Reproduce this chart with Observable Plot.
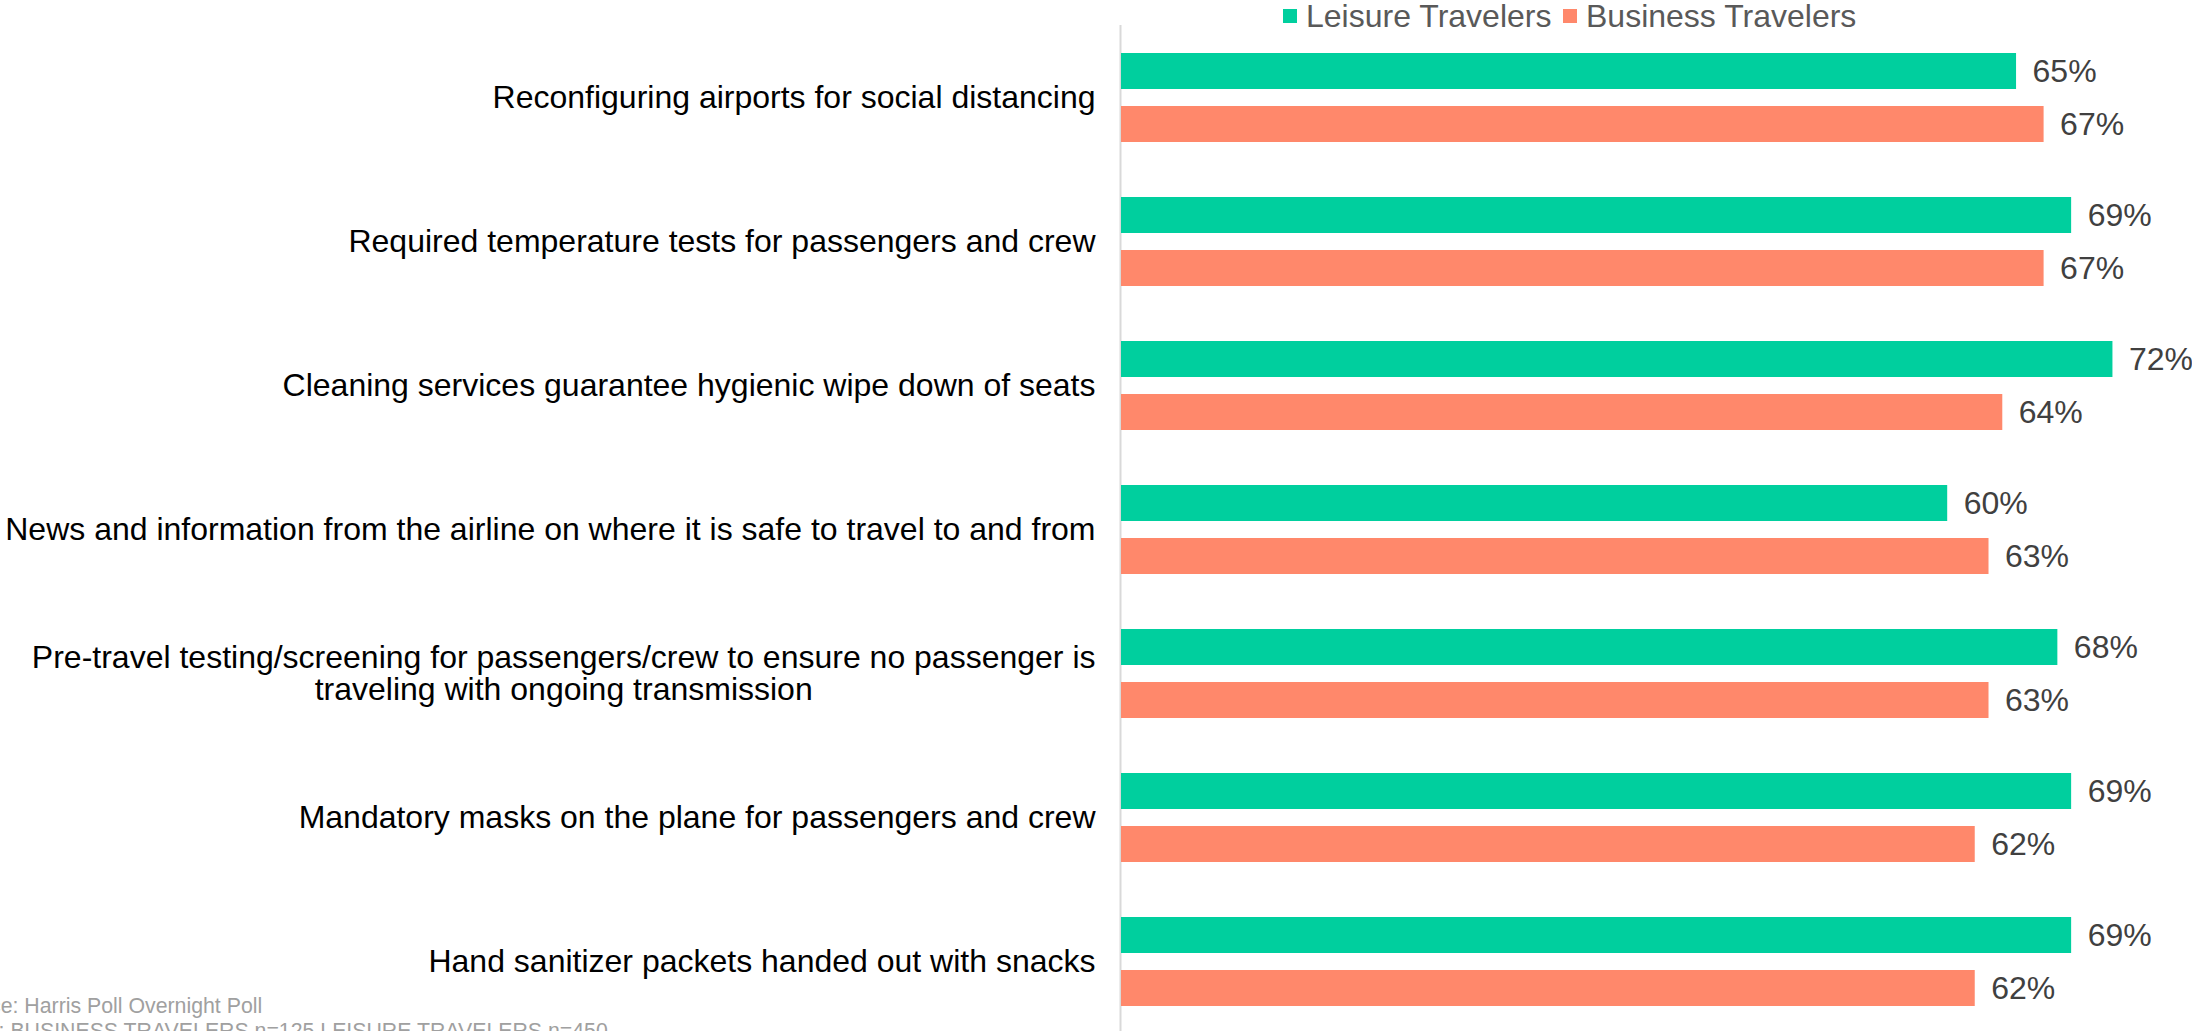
<!DOCTYPE html>
<html>
<head>
<meta charset="utf-8">
<script src="https://cdn.jsdelivr.net/npm/d3@7"></script>
<script src="https://cdn.jsdelivr.net/npm/@observablehq/plot@0.6"></script>
<style>
  html, body { margin: 0; padding: 0; background: #fff; overflow: hidden; }
  body { width: 2192px; height: 1031px; position: relative; font-family: "Liberation Sans", Arial, Helvetica, sans-serif; }
  #chart { position: absolute; left: 0; top: 0; }
  .legend-item { position: absolute; top: 0; height: 32px; }
  .legend-swatch { position: absolute; top: 9px; width: 14px; height: 14px; }
  .legend-text { position: absolute; top: -2px; left: 23px; font-size: 32px; line-height: 36px; color: #595959; white-space: nowrap; }
  .caption { position: absolute; font-size: 21.3px; line-height: 25px; color: #a0a0a0; white-space: nowrap; }
</style>
</head>
<body>
<div id="chart"></div>
<div id="legend"></div>
<div class="caption" style="left:-55px; top:994px;">Source: Harris Poll Overnight Poll</div>
<div class="caption" style="left:-50px; top:1019px;">Base: BUSINESS TRAVELERS n=125 LEISURE TRAVELERS n=450</div>
<script>
const categories = [
  "Reconfiguring airports for social distancing",
  "Required temperature tests for passengers and crew",
  "Cleaning services guarantee hygienic wipe down of seats",
  "News and information from the airline on where it is safe to travel to and from",
  "Pre-travel testing/screening for passengers/crew to ensure no passenger is\ntraveling with ongoing transmission",
  "Mandatory masks on the plane for passengers and crew",
  "Hand sanitizer packets handed out with snacks"
];
const series = ["Leisure Travelers", "Business Travelers"];
const leisure = [65, 69, 72, 60, 68, 69, 69];
const business = [67, 67, 64, 63, 63, 62, 62];
const colors = ["#00CF9E", "#FF886B"];

const data = categories.flatMap((c, i) => [
  {category: c, series: series[0], value: leisure[i]},
  {category: c, series: series[1], value: business[i]}
]);

const chart = Plot.plot({
  width: 2192,
  height: 1031,
  marginTop: 24,
  marginBottom: -3,
  marginLeft: 1120,
  marginRight: 0,
  style: {fontFamily: '"Liberation Sans", Arial, Helvetica, sans-serif', fontSize: "32px", color: "#000", background: "#fff"},
  x: {domain: [0, 100], range: [1121, 2498], axis: null},
  y: {domain: series, paddingInner: 0.327, paddingOuter: 0.514, axis: null},
  fy: {domain: categories, padding: 0},
  color: {domain: series, range: colors},
  marks: [
    Plot.axisFy({anchor: "left", tickSize: 0, tickPadding: 25, fontSize: 32, label: null, lineWidth: Infinity, fill: "#000"}),
    Plot.ruleX([0], {stroke: "#d9d9d9", strokeWidth: 2, dx: -1}),
    Plot.barX(data, {x: "value", y: "series", fy: "category", fill: "series"}),
    Plot.text(data, {x: "value", y: "series", fy: "category", text: d => d.value + "%", dx: 16, textAnchor: "start", fontSize: 32, fill: "#404040"})
  ]
});
document.getElementById("chart").appendChild(chart);

// center continuation lines of wrapped category labels under the first line
chart.querySelectorAll("text").forEach(t => {
  const ts = t.querySelectorAll("tspan");
  if (ts.length > 1) {
    const L = ts[0].getComputedTextLength();
    for (let i = 1; i < ts.length; i++) {
      const x0 = +(ts[i].getAttribute("x") || 0);
      ts[i].setAttribute("x", x0 - L / 2);
      ts[i].setAttribute("text-anchor", "middle");
    }
  }
});

// legend
const legend = document.getElementById("legend");
const legendX = [1283, 1563];
series.forEach((s, i) => {
  const item = document.createElement("div");
  item.className = "legend-item";
  item.style.left = legendX[i] + "px";
  const sw = document.createElement("div");
  sw.className = "legend-swatch";
  sw.style.background = colors[i];
  const tx = document.createElement("div");
  tx.className = "legend-text";
  tx.textContent = s;
  item.appendChild(sw);
  item.appendChild(tx);
  legend.appendChild(item);
});
</script>
</body>
</html>
